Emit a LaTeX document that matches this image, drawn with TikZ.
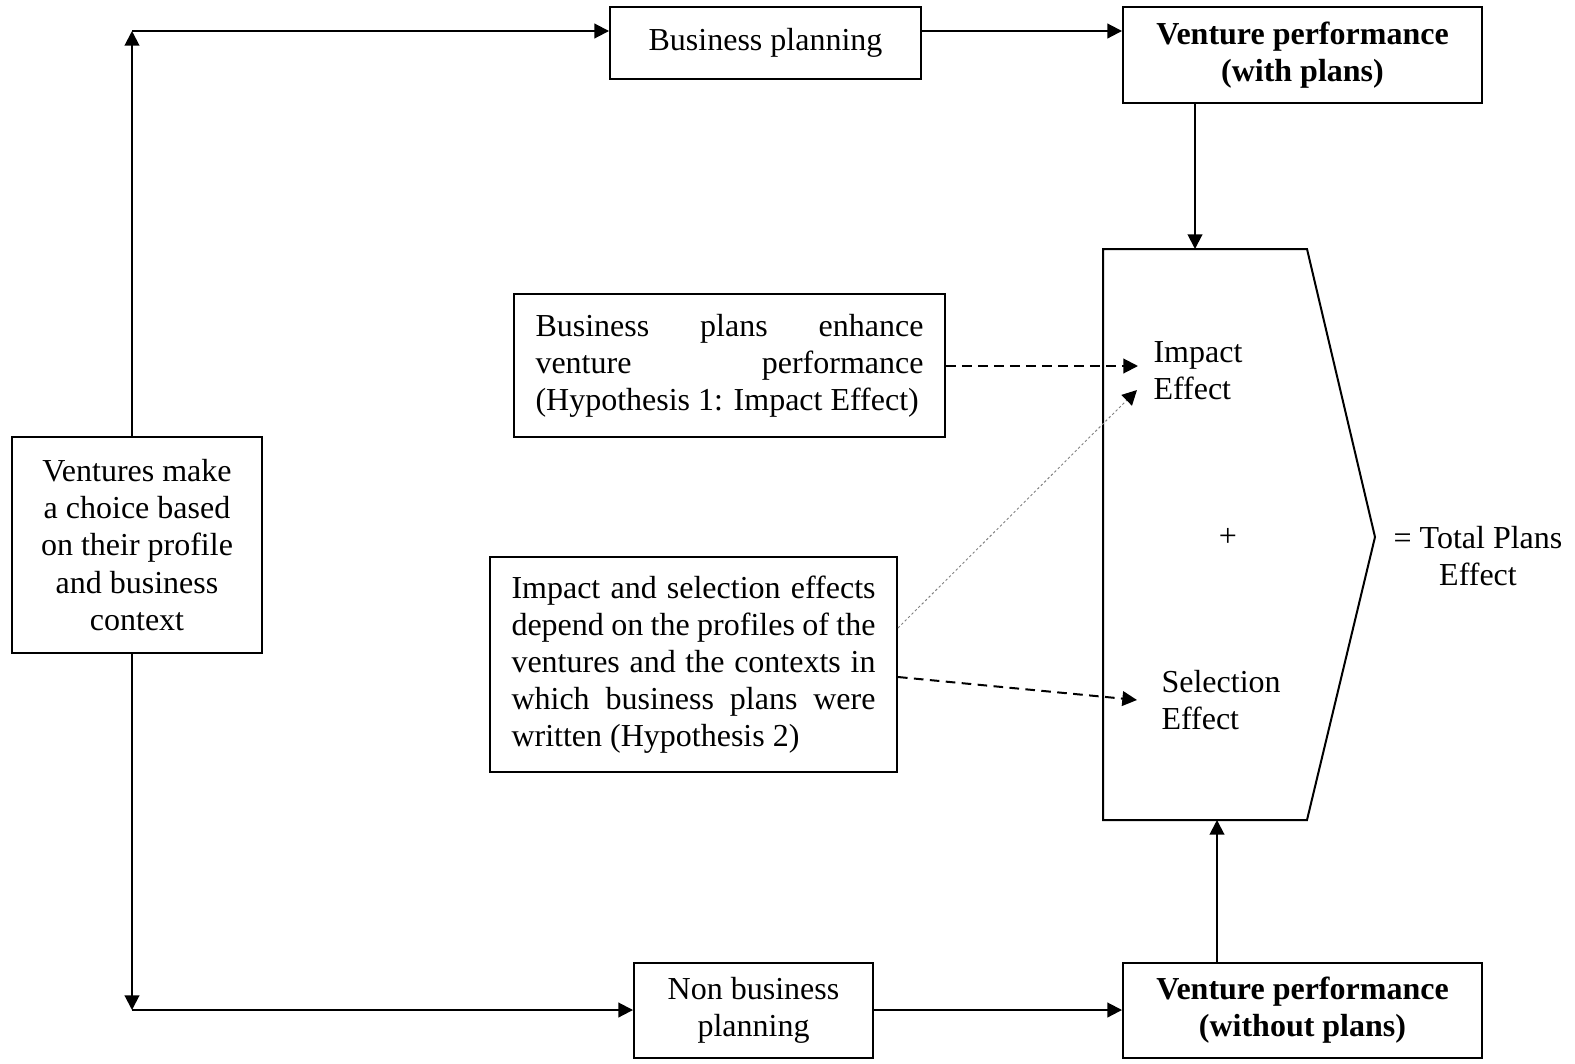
\documentclass[tikz,border=0pt]{standalone}
\usepackage{fontspec}
\setmainfont{Liberation Serif}
\usetikzlibrary{arrows.meta}
\begin{document}
\begin{tikzpicture}[x=0.375pt,y=-0.375pt,
  txt/.style={font=\fontsize{12}{13.9}\selectfont},
  box/.style={draw,line width=0.75pt,inner sep=0pt,txt,align=center},
  arr/.style={line width=0.75pt,-{Triangle[length=5.5pt,width=5.5pt]}},
  dasharr/.style={arr,dash pattern=on 3.6pt off 2.4pt},
  dotarr/.style={line width=0.35pt,gray,dash pattern=on 0.9pt off 0.9pt,-{Triangle[length=5.5pt,width=5.5pt,color=black,fill=black,line width=0.75pt]}}
]
\useasboundingbox (0,0) rectangle (1575,1064);
% boxes
\node[box,minimum width=93.75pt,minimum height=81pt] (vent) at (137,545)
  {Ventures make\\a choice based\\on their profile\\and business\\context};
\node[box,minimum width=116.6pt,minimum height=27pt] (bp) at (765.5,43) {Business planning};
\node[box,minimum width=134.6pt,minimum height=36pt,font=\fontsize{12}{13.9}\selectfont\bfseries] (vpw) at (1302.5,55)
  {Venture performance\\(with plans)};
\node[box,minimum width=161.6pt,minimum height=53.6pt] (h1) at (729.5,365.5)
  {\parbox{145.5pt}{Business plans enhance\linebreak venture performance\linebreak \mbox{(Hypothesis 1: Impact Effect)}\hfill}};
\node[box,minimum width=152.6pt,minimum height=80.6pt] (h2) at (693.5,664.5)
  {\parbox{136.5pt}{Impact and selection effects\linebreak depend on the profiles of the\linebreak ventures and the contexts in\linebreak which business plans were\linebreak written (Hypothesis 2)}};
\node[box,minimum width=89.6pt,minimum height=35.6pt] (nbp) at (753.5,1010.5) {Non business\\planning};
\node[box,minimum width=134.6pt,minimum height=35.6pt,font=\fontsize{12}{13.9}\selectfont\bfseries] (vpwo) at (1302.5,1010.5)
  {Venture performance\\(without plans)};
% pentagon
\draw[line width=0.75pt] (1103,249) coordinate (pTL) -- (1307,249) -- (1375,537) coordinate (pTip) -- (1307,820) -- (1103,820) coordinate (pBL) -- cycle;
\coordinate (pTop) at (1195,249);
\coordinate (pBot) at (1217,820);
\node[txt,align=left,anchor=west,inner sep=0pt] (imp) at (1153,370.5) {Impact\\Effect};
\node[txt,align=left,anchor=west,inner sep=0pt] (sel) at (1161,700) {Selection\\Effect};
\node[txt,inner sep=0pt] (plus) at (1228,537) {+};
\node[txt,align=center,inner sep=0pt] (tot) at (1478,556) {= Total Plans\\Effect};
% corner coordinates
\coordinate (cTop) at (132,31);
\coordinate (cBot) at (132,1010);
\coordinate (impIn) at (1138,366);
\coordinate (impIn2) at (1137,390);
\coordinate (selIn) at (1137,700);
% connectors
\draw[arr] (vent.north -| cTop) -- (cTop);
\draw[arr] (cTop) -- (cTop -| bp.west);
\draw[arr] (bp.east |- cTop) -- (vpw.west |- cTop);
\draw[arr] (vpw.south -| pTop) -- (pTop);
\draw[arr] (vent.south -| cBot) -- (cBot);
\draw[arr] (cBot) -- (cBot -| nbp.west);
\draw[arr] (nbp.east |- cBot) -- (vpwo.west |- cBot);
\draw[arr] (vpwo.north -| pBot) -- (pBot);
\draw[dasharr] (h1.east |- impIn) -- (impIn);
\draw[dotarr] (h2.east |- 0,628) -- (impIn2);
\draw[dasharr] (h2.east |- 0,677) -- (selIn);
\end{tikzpicture}
\end{document}
